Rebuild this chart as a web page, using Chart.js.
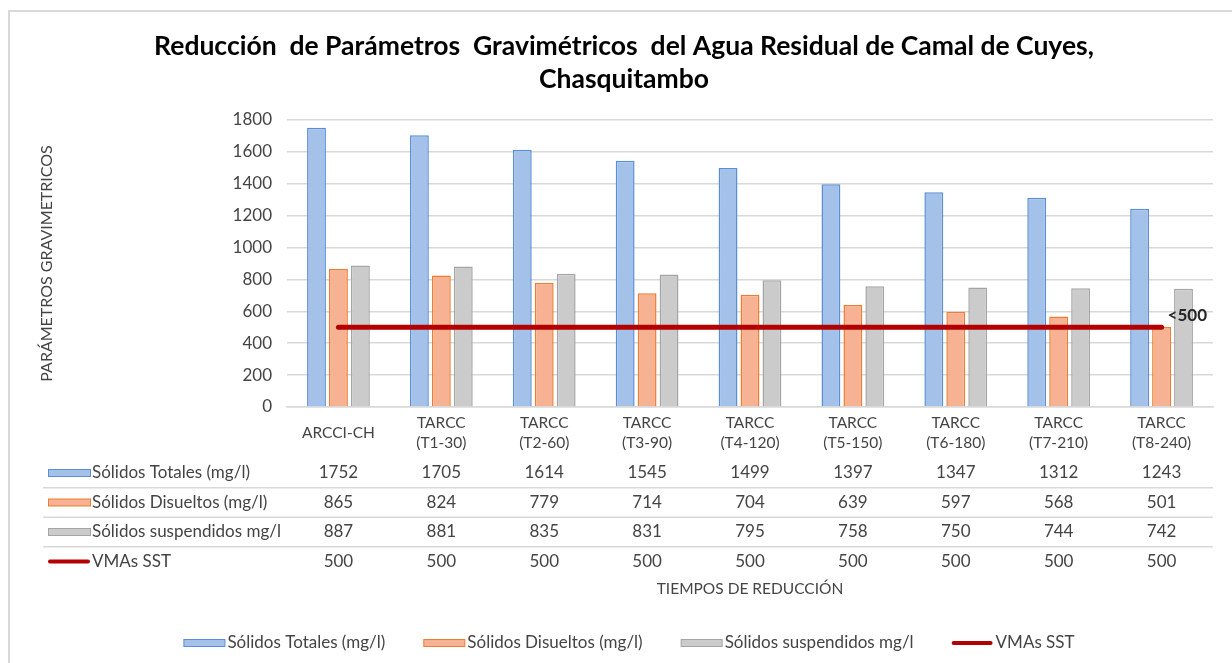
<!DOCTYPE html>
<html lang="es">
<head>
<meta charset="UTF-8">
<title>Reducción de Parámetros Gravimétricos</title>
<script src="https://cdn.jsdelivr.net/npm/chart.js"></script>
<style>
    body { margin: 0; background: #fff; overflow: hidden; }
    .marco {
        position: absolute; left: 8px; top: 10px;
        width: 1240px; height: 680px;
        border: 2px solid #d9d9d9;
    }
    .caja { position: absolute; left: 0; top: 0; width: 1232px; height: 663px; }
</style>
</head>
<body>
<div class="marco"></div>
<div class="caja"><canvas id="grafico"></canvas></div>
<script>
    // Datos
    const categorias = [
        'ARCCI-CH',
        ['TARCC', '(T1-30)'], ['TARCC', '(T2-60)'], ['TARCC', '(T3-90)'],
        ['TARCC', '(T4-120)'], ['TARCC', '(T5-150)'], ['TARCC', '(T6-180)'],
        ['TARCC', '(T7-210)'], ['TARCC', '(T8-240)']
    ];
    const solidosTotales = [1752, 1705, 1614, 1545, 1499, 1397, 1347, 1312, 1243];
    const solidosDisueltos = [865, 824, 779, 714, 704, 639, 597, 568, 501];
    const solidosSuspendidos = [887, 881, 835, 831, 795, 758, 750, 744, 742];
    const vmaSST = [500, 500, 500, 500, 500, 500, 500, 500, 500];
    const marcasY = [0, 200, 400, 600, 800, 1000, 1200, 1400, 1600, 1800];

    const fuente = 'Lato, "Open Sans", sans-serif';
    const texto = '#444444';

    const series = [
        { nombre: 'Sólidos Totales (mg/l)', datos: solidosTotales, relleno: '#a4c1ea', borde: '#5b8ed6' },
        { nombre: 'Sólidos Disueltos (mg/l)', datos: solidosDisueltos, relleno: '#f7b193', borde: '#ed7d31' },
        { nombre: 'Sólidos suspendidos mg/l', datos: solidosSuspendidos, relleno: '#cbcbcb', borde: '#a5a5a5' }
    ];
    const rojo = '#b30000';

    // dibuja la clave de una serie (rectángulo o línea)
    function clave(ctx, ds, x, y, ancho) {
        if (ds.type === 'line') {
            ctx.strokeStyle = ds.borderColor;
            ctx.lineWidth = 4;
            ctx.lineCap = 'round';
            ctx.beginPath();
            ctx.moveTo(x + 2, y);
            ctx.lineTo(x + ancho - 2, y);
            ctx.stroke();
        } else {
            ctx.fillStyle = ds.backgroundColor;
            ctx.strokeStyle = ds.borderColor;
            ctx.lineWidth = 1;
            ctx.fillRect(x + 0.5, y - 3.5, ancho, 7);
            ctx.strokeRect(x + 0.5, y - 3.5, ancho, 7);
        }
    }

    // Tabla de datos bajo el eje X, leyenda y etiqueta "<500"
    const tablaDatos = {
        id: 'tablaDatos',
        afterDraw(chart) {
            const ctx = chart.ctx;
            const x = chart.scales.x;
            const area = chart.chartArea;
            const filas = chart.data.datasets;
            const y0 = area.bottom + 66;
            const paso = 29.5;
            ctx.save();
            ctx.font = '17px ' + fuente;
            ctx.textBaseline = 'middle';
            filas.forEach((ds, f) => {
                const y = y0 + f * paso;
                clave(ctx, ds, 48, y, 42);
                ctx.fillStyle = texto;
                ctx.textAlign = 'left';
                ctx.fillText(ds.label, 92, y);
                ctx.textAlign = 'center';
                ds.data.forEach((v, i) => {
                    ctx.fillText(String(v), x.getPixelForValue(i), y);
                });
                if (f < filas.length - 1) {
                    ctx.strokeStyle = '#d9d9d9';
                    ctx.lineWidth = 1.5;
                    ctx.beginPath();
                    ctx.moveTo(43, y + paso / 2);
                    ctx.lineTo(area.right, y + paso / 2);
                    ctx.stroke();
                }
            });

            // leyenda inferior
            const anchos = filas.map(ds => 41 + 3 + ctx.measureText(ds.label).width);
            const hueco = 38;
            const total = anchos.reduce((a, b) => a + b, 0) + hueco * (anchos.length - 1);
            let lx = 629 - total / 2;
            const ly = 643;
            filas.forEach((ds, f) => {
                clave(ctx, ds, lx, ly, 41);
                ctx.fillStyle = texto;
                ctx.textAlign = 'left';
                ctx.fillText(ds.label, lx + 44, ly);
                lx += anchos[f] + hueco;
            });

            // etiqueta al final de la línea VMA
            const meta = chart.getDatasetMeta(3);
            const ult = meta.data[meta.data.length - 1];
            ctx.font = 'bold 17px ' + fuente;
            ctx.fillStyle = '#262626';
            ctx.textAlign = 'left';
            ctx.fillText('<500', ult.x + 6, ult.y - 12);
            ctx.restore();
        }
    };

    new Chart(document.getElementById('grafico'), {
        type: 'bar',
        data: {
            labels: categorias,
            datasets: [
                ...series.map(s => ({
                    label: s.nombre,
                    data: s.datos,
                    backgroundColor: s.relleno,
                    borderColor: s.borde,
                    borderWidth: 1.5,
                    categoryPercentage: 0.64,
                    barPercentage: 0.86,
                    order: 1
                })),
                {
                    type: 'line',
                    label: 'VMAs SST',
                    data: vmaSST,
                    borderColor: rojo,
                    backgroundColor: rojo,
                    borderWidth: 5,
                    borderCapStyle: 'round',
                    pointRadius: 0,
                    order: 0
                }
            ]
        },
        options: {
            responsive: true,
            maintainAspectRatio: false,
            animation: false,
            layout: { padding: { left: 35, right: 19, top: 14, bottom: 0 } },
            plugins: {
                title: {
                    display: true,
                    text: ['Reducción  de Parámetros  Gravimétricos  del Agua Residual de Camal de Cuyes,', 'Chasquitambo'],
                    color: '#000',
                    font: { family: fuente, size: 26.5, weight: 'bold', lineHeight: 1.245 },
                    padding: { top: 16, bottom: 24 }
                },
                legend: { display: false },
                tooltip: { enabled: false }
            },
            scales: {
                x: {
                    afterFit(scale) { scale.height = 256; },
                    grid: { display: false, drawTicks: false },
                    border: { display: true, color: '#d9d9d9', width: 1.5 },
                    ticks: {
                        color: texto,
                        font: { family: fuente, size: 15.5, lineHeight: 1.29 },
                        padding: 16,
                        maxRotation: 0,
                        autoSkip: false,
                        crossAlign: 'center'
                    },
                    title: {
                        display: true,
                        text: 'TIEMPOS DE REDUCCIÓN',
                        color: texto,
                        font: { family: fuente, size: 15.5, lineHeight: 1.2 },
                        padding: { top: 0, bottom: 65 }
                    }
                },
                y: {
                    min: 0,
                    max: 1800,
                    afterBuildTicks(scale) {
                        scale.ticks = marcasY.map(v => ({ value: v }));
                    },
                    afterFit(scale) { scale.width = 252; },
                    grid: { color: '#d9d9d9', lineWidth: 1.5, drawTicks: false },
                    border: { display: false },
                    ticks: {
                        color: texto,
                        font: { family: fuente, size: 17 },
                        padding: 15,
                        callback: v => String(v)
                    },
                    title: {
                        display: true,
                        text: 'PARÁMETROS GRAVIMETRICOS',
                        color: texto,
                        font: { family: fuente, size: 16, lineHeight: 1.2 },
                        padding: { top: 2, bottom: 2 }
                    }
                }
            }
        },
        plugins: [tablaDatos]
    });
</script>
</body>
</html>
